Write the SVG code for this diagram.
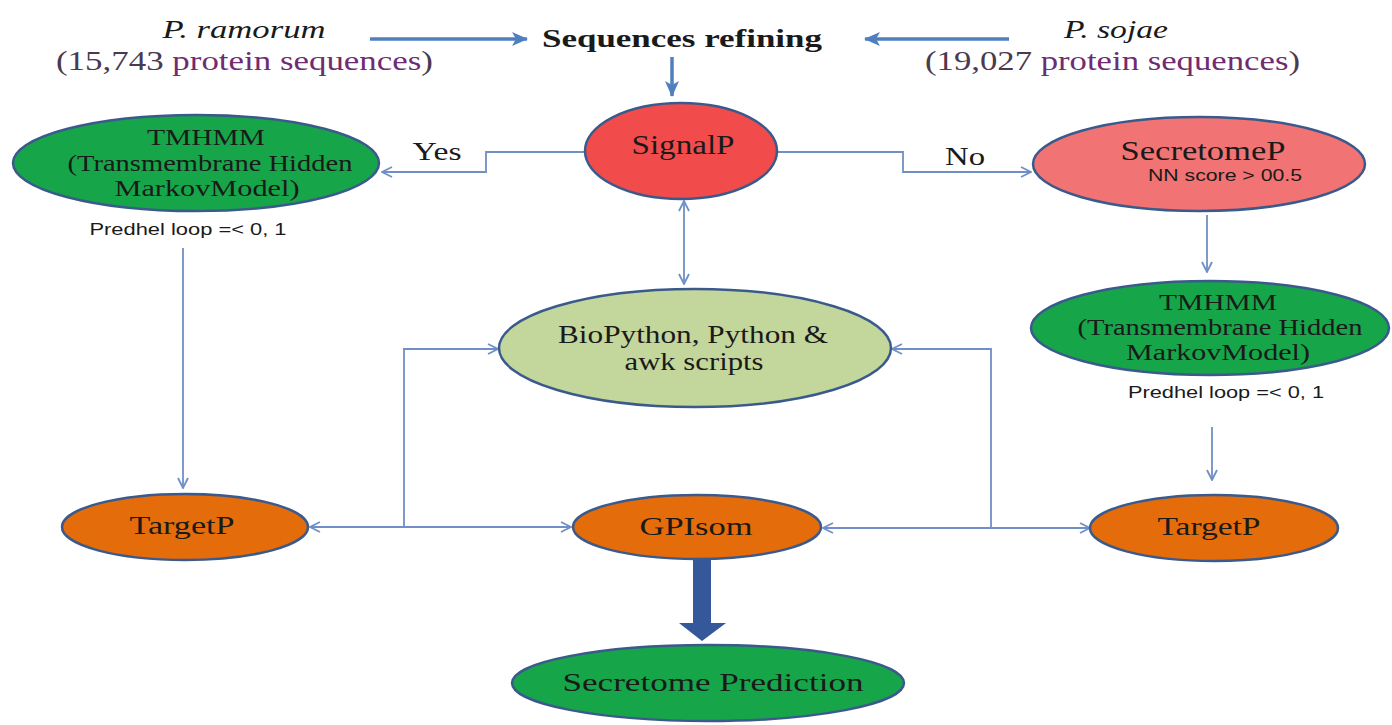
<svg xmlns="http://www.w3.org/2000/svg" width="1392" height="725" viewBox="0 0 1392 725">
<defs>
<style>
.serif{font-family:"Liberation Serif","Times New Roman",serif;fill:#1a1a1a;}
.sans{font-family:"Liberation Sans",Arial,sans-serif;fill:#1a1a1a;}
.node{stroke:#3b5a8c;stroke-width:2.5;}
.con{fill:none;stroke:#6f8fc6;stroke-width:1.8;}
.thick{fill:none;stroke:#4f7fbf;stroke-width:3.5;}
</style>
<marker id="open" viewBox="0 0 12 12" refX="11" refY="6" markerWidth="12" markerHeight="12" markerUnits="userSpaceOnUse" orient="auto-start-reverse">
<path d="M1,1 L11,6 L1,11" fill="none" stroke="#6f8fc6" stroke-width="1.8"/>
</marker>
<marker id="bold" viewBox="0 0 16 14" refX="15" refY="7" markerWidth="16" markerHeight="14" markerUnits="userSpaceOnUse" orient="auto">
<path d="M0,0 L16,7 L0,14 L4,7 Z" fill="#4f7fbf"/>
</marker>
</defs>
<rect width="1392" height="725" fill="#ffffff"/>

<g id="source-ramorum">
<text class="serif" x="244" y="38" font-size="25" font-style="italic" text-anchor="middle" textLength="163" lengthAdjust="spacingAndGlyphs">P. ramorum</text>
<text class="serif" x="56" y="70" font-size="27" textLength="377" lengthAdjust="spacingAndGlyphs"><tspan fill="#4a3a4e">(15,743 </tspan><tspan fill="#702c72">protein sequences</tspan><tspan fill="#4a3a4e">)</tspan></text>
</g>
<g id="source-sojae">
<text class="serif" x="1116" y="38" font-size="25" font-style="italic" text-anchor="middle" textLength="104" lengthAdjust="spacingAndGlyphs">P. sojae</text>
<text class="serif" x="925" y="70" font-size="27" textLength="375" lengthAdjust="spacingAndGlyphs"><tspan fill="#4a3a4e">(19,027 </tspan><tspan fill="#702c72">protein sequences</tspan><tspan fill="#4a3a4e">)</tspan></text>
</g>
<g id="refining">
<text class="serif" x="542" y="47" font-size="26" font-weight="bold" textLength="280" lengthAdjust="spacingAndGlyphs">Sequences refining</text>
</g>

<g id="connectors">
<line class="thick" x1="370" y1="39" x2="527" y2="39" marker-end="url(#bold)"/>
<line class="thick" x1="1009" y1="39" x2="865" y2="39" marker-end="url(#bold)"/>
<line class="thick" x1="672" y1="57" x2="672" y2="96" marker-end="url(#bold)"/>
<polyline class="con" points="585,152 486,152 486,172 382,172" marker-end="url(#open)"/>
<polyline class="con" points="777,152 903,152 903,172 1031,172" marker-end="url(#open)"/>
<line class="con" x1="684" y1="201" x2="684" y2="284" marker-start="url(#open)" marker-end="url(#open)"/>
<line class="con" x1="1207" y1="215" x2="1207" y2="272" marker-end="url(#open)"/>
<line class="con" x1="1212" y1="427" x2="1212" y2="480" marker-end="url(#open)"/>
<line class="con" x1="183" y1="248" x2="183" y2="488" marker-end="url(#open)"/>
<polyline class="con" points="404,527 404,349 498,349" marker-end="url(#open)"/>
<line class="con" x1="310" y1="527" x2="571" y2="527" marker-start="url(#open)" marker-end="url(#open)"/>
<polyline class="con" points="991,528 991,349 892,349" marker-end="url(#open)"/>
<line class="con" x1="823" y1="528" x2="1090" y2="528" marker-start="url(#open)" marker-end="url(#open)"/>
<path d="M693,560 L711,560 L711,623 L726,623 L702,641 L679,623 L693,623 Z" fill="#34589a"/>
</g>

<g id="tmhmm-left">
<ellipse class="node" cx="196" cy="163" rx="183" ry="48" fill="#17a54a"/>
<text class="serif" x="206" y="145" font-size="23" text-anchor="middle" textLength="118" lengthAdjust="spacingAndGlyphs">TMHMM</text>
<text class="serif" x="210" y="171" font-size="23" text-anchor="middle" textLength="285" lengthAdjust="spacingAndGlyphs">(Transmembrane Hidden</text>
<text class="serif" x="207" y="196" font-size="23" text-anchor="middle" textLength="185" lengthAdjust="spacingAndGlyphs">MarkovModel)</text>
<text class="sans" x="188" y="235" font-size="16" text-anchor="middle" textLength="197" lengthAdjust="spacingAndGlyphs">Predhel loop =&lt; 0, 1</text>
</g>

<g id="signalp">
<ellipse class="node" cx="681" cy="151" rx="96" ry="48" fill="#f24b4b"/>
<text class="serif" x="683" y="154" font-size="27" text-anchor="middle" textLength="103" lengthAdjust="spacingAndGlyphs">SignalP</text>
</g>
<text class="serif" x="437" y="160" font-size="25" text-anchor="middle" textLength="49" lengthAdjust="spacingAndGlyphs">Yes</text>
<text class="serif" x="965" y="165" font-size="25" text-anchor="middle" textLength="40" lengthAdjust="spacingAndGlyphs">No</text>

<g id="secretomep">
<ellipse class="node" cx="1199" cy="164" rx="166" ry="47" fill="#f27373"/>
<text class="serif" x="1203" y="160" font-size="27" text-anchor="middle" textLength="165" lengthAdjust="spacingAndGlyphs">SecretomeP</text>
<text class="sans" x="1225" y="181" font-size="16" text-anchor="middle" textLength="154" lengthAdjust="spacingAndGlyphs">NN score &gt; 00.5</text>
</g>

<g id="tmhmm-right">
<ellipse class="node" cx="1210" cy="328" rx="179" ry="47" fill="#17a54a"/>
<text class="serif" x="1218" y="310" font-size="23" text-anchor="middle" textLength="118" lengthAdjust="spacingAndGlyphs">TMHMM</text>
<text class="serif" x="1220" y="335" font-size="23" text-anchor="middle" textLength="285" lengthAdjust="spacingAndGlyphs">(Transmembrane Hidden</text>
<text class="serif" x="1218" y="360" font-size="23" text-anchor="middle" textLength="184" lengthAdjust="spacingAndGlyphs">MarkovModel)</text>
<text class="sans" x="1226" y="398" font-size="16" text-anchor="middle" textLength="196" lengthAdjust="spacingAndGlyphs">Predhel loop =&lt; 0, 1</text>
</g>

<g id="biopython">
<ellipse class="node" cx="695" cy="348" rx="196" ry="59" fill="#c3d69b"/>
<text class="serif" x="693" y="343" font-size="25" text-anchor="middle" textLength="270" lengthAdjust="spacingAndGlyphs">BioPython, Python &amp;</text>
<text class="serif" x="694" y="370" font-size="25" text-anchor="middle" textLength="139" lengthAdjust="spacingAndGlyphs">awk scripts</text>
</g>

<g id="targetp-left">
<ellipse class="node" cx="185" cy="527" rx="123" ry="33" fill="#e46c0a"/>
<text class="serif" x="182" y="534" font-size="25" text-anchor="middle" textLength="105" lengthAdjust="spacingAndGlyphs">TargetP</text>
</g>
<g id="gpisom">
<ellipse class="node" cx="697" cy="527" rx="124" ry="32" fill="#e46c0a"/>
<text class="serif" x="696" y="535" font-size="25" text-anchor="middle" textLength="113" lengthAdjust="spacingAndGlyphs">GPIsom</text>
</g>
<g id="targetp-right">
<ellipse class="node" cx="1214" cy="528" rx="124" ry="33" fill="#e46c0a"/>
<text class="serif" x="1209" y="535" font-size="25" text-anchor="middle" textLength="103" lengthAdjust="spacingAndGlyphs">TargetP</text>
</g>

<g id="secretome-prediction">
<ellipse class="node" cx="708" cy="683" rx="196" ry="38" fill="#17a54a"/>
<text class="serif" x="713" y="691" font-size="25" text-anchor="middle" textLength="301" lengthAdjust="spacingAndGlyphs">Secretome Prediction</text>
</g>
</svg>
